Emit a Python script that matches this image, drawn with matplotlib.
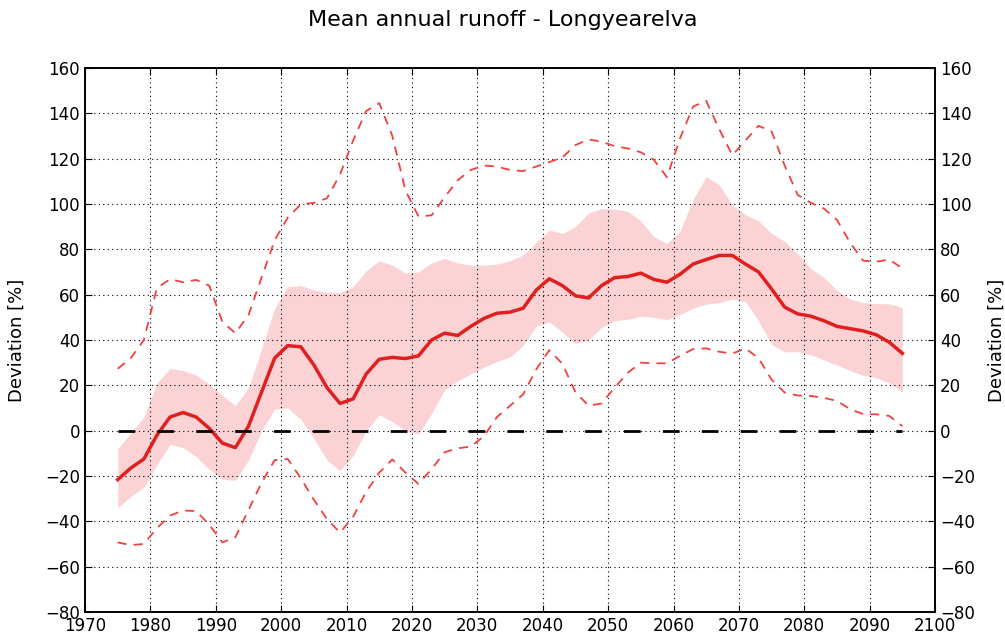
import numpy as np
import matplotlib
matplotlib.use("Agg")
import matplotlib.pyplot as plt

# Years of the smoothed runoff series
years = np.arange(1975, 2096, 2)

# Median deviation [%]
median = [-21.6, -16.5, -12.5, -2, 6, 8, 6, 1, -5.5, -7.5,
          2, 17, 32, 37.5, 37, 29, 19, 12, 14, 25,
          31.5, 32.3, 31.8, 33, 40, 43, 42, 46, 49.5, 51.8,
          52.3, 54, 62, 67, 64, 59.5, 58.5, 64, 67.5, 68,
          69.5, 66.7, 65.5, 69, 73.5, 75.5, 77.3, 77.3, 73.5, 70,
          62.5, 54.5, 51.5, 50.5, 48.5, 46, 45, 44, 42.3, 39, 34.1]

# Inner spread (shaded band)
band_hi = [-8, -1, 6, 21, 27.5, 26.5, 24.5, 20.5, 15.5, 11,
           19, 36, 54, 63.5, 64, 62, 61, 61, 63.5, 70.5,
           75, 73, 69.5, 70, 74, 76, 74, 73, 73, 73.5,
           75, 77.5, 83, 88.5, 87, 90, 96, 98, 97.8, 96.8,
           92.5, 85.5, 82.6, 88, 102, 112, 108.5, 99.5, 95.3, 92.5,
           87, 83.5, 78, 71.5, 67.6, 62, 58, 56.5, 56, 56, 54.2]
band_lo = [-34, -29, -25, -15, -6, -7.5, -11.5, -17, -21.5, -22,
           -13, 0, 9.5, 10, 5, -3.5, -13, -17.7, -11, 0,
           7, 4, 0, -1.5, 7.5, 18, 22, 25, 28, 30.5,
           32.5, 37.5, 46, 48, 43.5, 38.5, 40, 45.5, 48.5, 49.1,
           50.5, 50, 49, 51.2, 54, 55.8, 56.5, 58, 57, 48.5,
           38, 34.7, 34.8, 33.5, 31.2, 29, 26.5, 24.4, 23.4, 21, 17]

# Outer envelope (dashed)
env_hi = [27.3, 32, 40, 63, 66.8, 65.5, 66.5, 64, 48, 43,
          51, 67.5, 84, 94, 99.8, 100.5, 102.5, 113, 128, 141,
          144.5, 130, 106, 94.5, 95, 103, 110.5, 115, 117, 116.5,
          115, 114.5, 116.5, 118.5, 120.5, 126, 128.5, 127.5, 125.5, 124.5,
          122.8, 119.5, 111.8, 129, 143, 145.5, 133, 121.5, 128, 134.5,
          132, 117, 104, 100.5, 98, 93, 83, 75, 74.5, 75.5, 71.6]
env_lo = [-49.3, -50.5, -50, -43, -37.5, -35.2, -35.5, -41.5, -49.3, -47,
          -35, -23, -13, -12.5, -21, -30.5, -39, -45, -38, -27,
          -18.5, -12.7, -18.5, -23.5, -17, -9.5, -7.8, -7, -2.5, 6,
          11, 16, 27, 35.5, 29.5, 17, 11, 12, 19, 25.5,
          30, 29.7, 29.7, 33, 36, 36.3, 34.8, 34, 36.3, 32,
          22.5, 16.8, 15.5, 15.3, 14.5, 13.1, 9.5, 7.3, 7.2, 6.5, 2]

yticks = np.arange(-80, 161, 20)

fig = plt.figure(figsize=(10.05, 6.39), dpi=100)
ax = fig.add_axes([0.0846, 0.0423, 0.8458, 0.8513])

ax.fill_between(years, band_lo, band_hi, color="#fcd3d4", lw=0)
ax.plot(years, env_hi, color="#f04040", lw=1.3, dashes=(5, 4),
        dash_joinstyle="round")
ax.plot(years, env_lo, color="#f04040", lw=1.3, dashes=(5, 4),
        dash_joinstyle="round")
ax.plot(years, median, color="#e02020", lw=2.5, solid_joinstyle="round")
ax.hlines(0, years[0], years[-1], colors="black", lw=2, linestyles=(0, (6, 8)))

ax.set_xlim(1970, 2100)
ax.set_ylim(-80, 160)
ax.set_xticks(np.arange(1970, 2101, 10))
ax.set_yticks(yticks)
ax.grid(True, color="black", linestyle=(0, (1, 3)), lw=0.8)
ax.tick_params(direction="in", top=True, labelsize=12, length=5)
ax.set_ylabel("Deviation [%]", fontsize=13, labelpad=14)

ax2 = ax.twinx()
ax2.set_ylim(ax.get_ylim())
ax2.set_yticks(yticks)
ax2.tick_params(direction="in", labelsize=12, length=5)
ax2.set_ylabel("Deviation [%]", fontsize=13, labelpad=9)

for a in (ax, ax2):
    for s in a.spines.values():
        s.set_linewidth(1.2)

fig.suptitle("Mean annual runoff - Longyearelva", fontsize=16, y=0.985)

fig.savefig("out.png", dpi=100)
